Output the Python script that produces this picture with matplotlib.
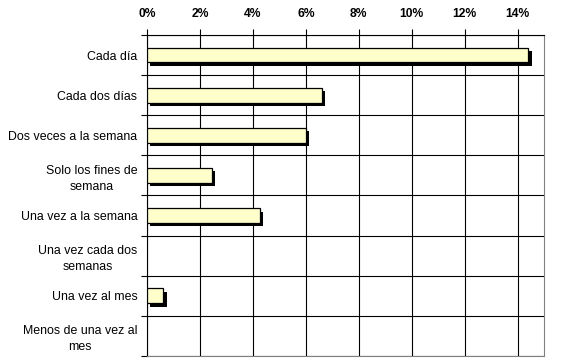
import numpy as np
import matplotlib.pyplot as plt
from matplotlib import patheffects
from matplotlib.ticker import FuncFormatter

plt.rcParams['font.family'] = ['Liberation Sans', 'DejaVu Sans']

categorias = ["Cada día", "Cada dos días", "Dos veces a la semana",
              "Solo los fines de\nsemana", "Una vez a la semana",
              "Una vez cada dos\nsemanas", "Una vez al mes",
              "Menos de una vez al\nmes"]
porcentajes = [14.4, 6.6, 6.0, 2.45, 4.25, 0.0, 0.62, 0.0]

fig = plt.figure(figsize=(5.62, 3.62), dpi=100)
ax = fig.add_axes([0.2616, 0.0166, 0.7064, 0.8867])

pos = np.arange(len(categorias))
sombra = [patheffects.SimplePatchShadow(offset=(2.5, -2.5), shadow_rgbFace='black', alpha=1.0),
          patheffects.Normal()]
for p, v in zip(pos, porcentajes):
    if v > 0:
        ax.barh(p, v, height=0.37, color='#FFFFCC', edgecolor='black', linewidth=0.9,
                path_effects=sombra, zorder=3)

ax.set_xlim(0, 15)
ax.set_ylim(len(categorias) - 0.5, -0.5)

ax.set_xticks(np.arange(0, 15, 2))
ax.xaxis.set_major_formatter(FuncFormatter(lambda x, _: f"{x:.0f}%"))
ax.xaxis.tick_top()
ax.tick_params(axis='x', which='major', direction='out', length=4, width=0.8,
               labelsize=8.7, pad=7)
for t in ax.get_xticklabels():
    t.set_fontweight('bold')

ax.set_yticks(np.arange(-0.5, len(categorias) + 0.5, 1))
ax.set_yticklabels([])
ax.set_yticks(pos, minor=True)
ax.set_yticklabels(categorias, minor=True, fontsize=8.9, multialignment='center',
                   linespacing=1.45)
ax.tick_params(axis='y', which='major', direction='out', length=4, width=0.8)
ax.tick_params(axis='y', which='minor', length=0, pad=7)

ax.grid(True, which='major', color='black', linewidth=0.8, zorder=1)
ax.set_axisbelow(True)

ax.spines['left'].set_color('black')
ax.spines['top'].set_color('black')
ax.spines['right'].set_color('#808080')
ax.spines['bottom'].set_color('#808080')
for s in ax.spines.values():
    s.set_linewidth(0.8)

fig.savefig('out.png', dpi=100)
